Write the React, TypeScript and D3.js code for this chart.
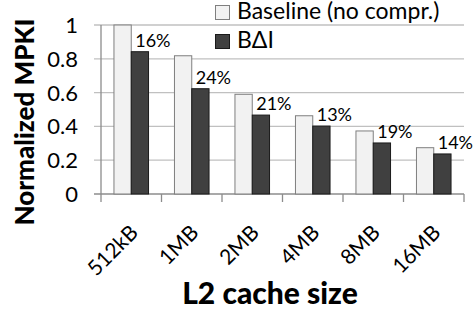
import * as d3 from 'd3';
import * as React from 'react';

const categories = ['512kB', '1MB', '2MB', '4MB', '8MB', '16MB'];
const baseline = [1.0, 0.818, 0.59, 0.463, 0.373, 0.274];
const bdi = [0.842, 0.623, 0.467, 0.402, 0.302, 0.237];
const reductions = ['16%', '24%', '21%', '13%', '19%', '14%'];
const yTicks = [0, 0.2, 0.4, 0.6, 0.8, 1];
const seriesNames = ['Baseline (no compr.)', 'B\u0394I'];

const W = 473;
const H = 313;
const left = 101;
const right = 464;
const top = 25;
const bottom = 194;
const font = 'Lato, Carlito, "Open Sans", sans-serif';

export default function App() {
  const x = d3.scaleBand<string>().domain(categories).range([left, right]);
  const y = d3.scaleLinear().domain([0, 1]).range([bottom, top]);
  const inner = d3
    .scaleBand<number>()
    .domain([0, 1])
    .range([0, x.bandwidth()])
    .paddingInner(0)
    .paddingOuter(0.75);

  return (
    <svg
      width={W}
      height={H}
      style={{ position: 'absolute', left: 0, top: 0, background: '#fff' }}
      fontFamily={font}
    >
      {/* grid */}
      {yTicks.map((t) => (
        <g key={t}>
          <line
            x1={left - 7}
            x2={right}
            y1={y(t)}
            y2={y(t)}
            stroke={t === 0 ? '#8c8c8c' : '#c0c0c0'}
            strokeWidth={1.3}
          />
          <text
            x={left - 23}
            y={y(t)}
            dy="0.36em"
            textAnchor="end"
            fontSize={22}
            fill="#000"
          >
            {t === 0 || t === 1 ? String(t) : t.toFixed(1)}
          </text>
        </g>
      ))}
      {/* y axis line */}
      <line x1={left} x2={left} y1={top} y2={bottom} stroke="#8c8c8c" strokeWidth={1.3} />
      {/* x ticks */}
      {[...categories.map((c) => x(c)!), right].map((px, i) => (
        <line key={i} x1={px} x2={px} y1={bottom} y2={bottom + 8} stroke="#8c8c8c" strokeWidth={1.3} />
      ))}
      {/* bars */}
      {categories.map((c, i) => {
        const x0 = x(c)!;
        return (
          <g key={c}>
            <rect
              x={x0 + inner(0)!}
              y={y(baseline[i])}
              width={inner.bandwidth()}
              height={y(0) - y(baseline[i])}
              fill="#f2f2f2"
              stroke="#7f7f7f"
              strokeWidth={1}
            />
            <rect
              x={x0 + inner(1)!}
              y={y(bdi[i])}
              width={inner.bandwidth()}
              height={y(0) - y(bdi[i])}
              fill="#404040"
              stroke="#1a1a1a"
              strokeWidth={1}
            />
            <text
              x={x0 + inner(1)! + inner.bandwidth() / 2 + 13}
              y={y(bdi[i]) - 5}
              textAnchor="middle"
              fontSize={18}
              fill="#000"
            >
              {reductions[i]}
            </text>
            <text
              transform={`translate(${x0 + x.bandwidth() / 2 + 8},${bottom + 40}) rotate(-45)`}
              textAnchor="end"
              fontSize={21}
              fill="#000"
            >
              {c}
            </text>
          </g>
        );
      })}
      {/* legend */}
      {seriesNames.map((s, i) => (
        <g key={s} transform={`translate(215,${5 + i * 29})`}>
          <rect
            x={0.5}
            y={0.5}
            width={14}
            height={14}
            fill={i === 0 ? '#f2f2f2' : '#404040'}
            stroke={i === 0 ? '#7f7f7f' : '#1a1a1a'}
          />
          <text x={22} y={14} fontSize={23} fill="#000">
            {s}
          </text>
        </g>
      ))}
      {/* axis titles */}
      <text
        transform={`translate(34,122) rotate(-90)`}
        textAnchor="middle"
        fontSize={26}
        fontWeight={900}
        fill="#000"
      >
        Normalized MPKI
      </text>
      <text x={270} y={304} textAnchor="middle" fontSize={30} fontWeight={900} fill="#000">
        L2 cache size
      </text>
    </svg>
  );
}
